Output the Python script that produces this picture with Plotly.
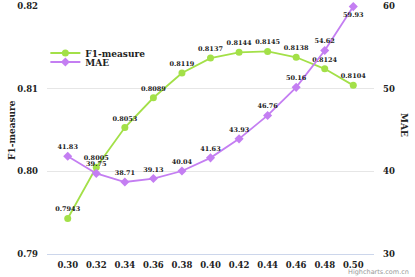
import plotly.graph_objects as go

categories = ["0.30", "0.32", "0.34", "0.36", "0.38", "0.40", "0.42", "0.44", "0.46", "0.48", "0.50"]
f1_values = [0.7943, 0.8005, 0.8053, 0.8089, 0.8119, 0.8137, 0.8144, 0.8145, 0.8138, 0.8124, 0.8104]
mae_values = [41.83, 39.75, 38.71, 39.13, 40.04, 41.63, 43.93, 46.76, 50.16, 54.62, 59.93]

GREEN = "#a3e048"
PURPLE = "#c47ef2"
FONT = "DejaVu Serif"

mae_pos = ["top center"] * (len(mae_values) - 1) + ["bottom center"]

fig = go.Figure()
fig.add_trace(go.Scatter(
    x=categories, y=f1_values, name="<b>F1-measure</b>", mode="lines+markers+text", legend="legend",
    line=dict(color=GREEN, width=1.8), marker=dict(symbol="circle", size=7, color=GREEN),
    text=[f"<b>{v:.4f}</b>" for v in f1_values], textposition="top center",
    textfont=dict(family=FONT, size=6.5, color="#222"), cliponaxis=False,
))
fig.add_trace(go.Scatter(
    x=categories, y=mae_values, name="<b>MAE</b>", mode="lines+markers+text", yaxis="y2", legend="legend2",
    line=dict(color=PURPLE, width=1.8), marker=dict(symbol="diamond", size=7, color=PURPLE),
    text=[f"<b>{v:.2f}</b>" for v in mae_values], textposition=mae_pos,
    textfont=dict(family=FONT, size=6.5, color="#222"), cliponaxis=False,
))

legend_common = dict(xanchor="left", yanchor="middle", bgcolor="rgba(0,0,0,0)",
                     font=dict(family=FONT, size=9, color="#222"), itemwidth=30)

fig.update_layout(
    width=415, height=277,
    margin=dict(l=47, r=41, t=6, b=23, autoexpand=False),
    paper_bgcolor="white", plot_bgcolor="white",
    font=dict(family=FONT, color="#222"),
    showlegend=True,
    legend=dict(x=-0.005, y=(254 - 53) / 248, **legend_common),
    legend2=dict(x=-0.005, y=(254 - 62) / 248, **legend_common),
    xaxis=dict(type="category", showgrid=False, showline=True, linecolor="#ccd6eb", linewidth=1,
               ticks="", tickfont=dict(family=FONT, size=8.5, color="#222"), automargin=False,
               ticklabelstandoff=3,
               tickvals=categories, ticktext=[f"<b>{c}</b>" for c in categories]),
    yaxis=dict(range=[0.79, 0.82], dtick=0.01, tickformat=".2f", showgrid=True, gridcolor="#e6e6e6",
               zeroline=False, tickfont=dict(family=FONT, size=8.5, color="#222"), ticks="",
               tickprefix="<b>", ticksuffix="</b>", automargin=False, ticklabelstandoff=8),
    yaxis2=dict(range=[30, 60], dtick=10, overlaying="y", side="right", showgrid=False,
                zeroline=False, tickfont=dict(family=FONT, size=8.5, color="#222"), ticks="",
                tickprefix="<b>", ticksuffix="</b>", automargin=False, ticklabelstandoff=8),
    annotations=[
        dict(text="<b>F1-measure</b>", x=-0.107, xref="paper", y=0.5, yref="paper", textangle=-90,
             showarrow=False, font=dict(family=FONT, size=9, color="#222"), xanchor="center"),
        dict(text="<b>MAE</b>", x=(404 - 47) / 327, xref="paper", y=0.52, yref="paper", textangle=90,
             showarrow=False, font=dict(family=FONT, size=9, color="#222"), xanchor="center"),
        dict(text="Highcharts.com.cn", x=(411 - 47) / 327, xref="paper", y=(254 - 272) / 248, yref="paper",
             showarrow=False, font=dict(family="DejaVu Sans", size=6.5, color="#999"),
             xanchor="right", yanchor="middle"),
    ],
)

fig.write_html("out.html", config={"displayModeBar": False},
               post_script="document.body.style.margin='0';")
